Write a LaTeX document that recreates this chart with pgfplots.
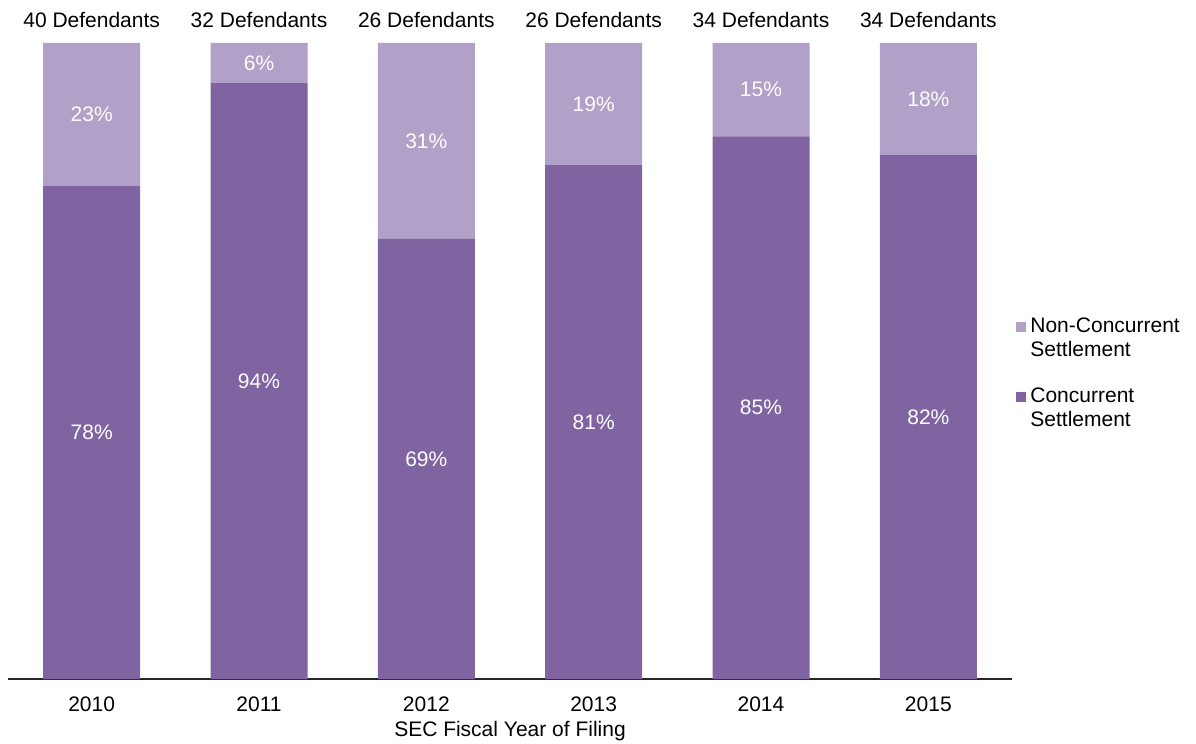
\documentclass[border=0pt]{standalone}
\usepackage{pgfplots}
\pgfplotsset{compat=1.18}
\usepackage{fontspec}
\setmainfont{Liberation Sans}
\usetikzlibrary{calc}
\definecolor{darkp}{HTML}{8064A2}
\definecolor{lightp}{HTML}{B1A0C7}
\begin{document}
\begin{tikzpicture}[font=\fontsize{10.5}{12}\selectfont]
\begin{axis}[name=ax,
  width=502pt, height=318pt, scale only axis,
  ybar stacked, bar width=48.5pt,
  xmin=-0.5, xmax=5.5, ymin=0, ymax=100,
  axis y line=none, axis x line*=bottom,
  x axis line style={line width=0.6pt, black!85, -},
  xtick={0,1,2,3,4,5},
  xticklabels={2010,2011,2012,2013,2014,2015},
  major tick length=0pt,
  /pgf/number format/assume math mode=true,
  xticklabel style={anchor=center, yshift=-12.5pt},
  xlabel={SEC Fiscal Year of Filing},
  xlabel style={at={(axis description cs:0.5,0)}, anchor=center, yshift=-26pt},
  clip=false,
  legend style={draw=none, fill=none, at={(1,0.48)}, anchor=west, xshift=2pt,
    inner xsep=0pt, cells={anchor=west, align=left}, row sep=10pt},
  legend image code/.code={\path[draw=none,fill=none] (0pt,-8.5pt) rectangle (5pt,8.5pt); \path[#1] (0pt,3.3pt) rectangle (5pt,8.3pt);},
  reverse legend,
]
\addplot[fill=darkp, draw=none, nodes near coords, point meta=explicit symbolic,
  every node near coord/.append style={white, anchor=center}]
  table[meta=lab] {
x y lab
0 77.5 78\%
1 93.75 94\%
2 69.2 69\%
3 80.8 81\%
4 85.3 85\%
5 82.35 82\%
};
\addlegendentry{Concurrent\\Settlement}
\addplot[fill=lightp, draw=none, nodes near coords, point meta=explicit symbolic,
  every node near coord/.append style={white, anchor=center}]
  table[meta=lab] {
x y lab
0 22.5 23\%
1 6.25 6\%
2 30.8 31\%
3 19.2 19\%
4 14.7 15\%
5 17.65 18\%
};
\addlegendentry{Non-Concurrent\\Settlement}
\addplot[draw=none, fill=none, forget plot, nodes near coords, point meta=explicit symbolic,
  every node near coord/.append style={black, anchor=center, yshift=11.5pt}]
  table[meta=lab] {
x y lab
0 0.01 {40 Defendants}
1 0.01 {32 Defendants}
2 0.01 {26 Defendants}
3 0.01 {26 Defendants}
4 0.01 {34 Defendants}
5 0.01 {34 Defendants}
};
\end{axis}
\pgfresetboundingbox
\path ($(ax.south west)+(-4pt,-32pt)$) rectangle ($(ax.north east)+(92pt,21.5pt)$);
\end{tikzpicture}
\end{document}
